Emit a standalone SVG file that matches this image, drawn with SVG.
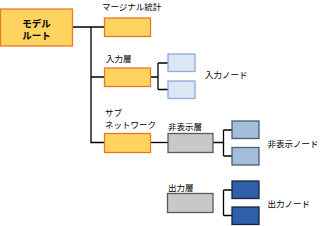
<svg xmlns="http://www.w3.org/2000/svg" width="320" height="226" viewBox="0 0 320 226">
<style>
text{font-family:"Noto Sans CJK JP","Liberation Sans",sans-serif;font-size:8.5px;fill:#000}
.root text{font-size:9.5px;font-weight:bold}
.orange{fill:#FFD35F;stroke:#E87722;stroke-width:1.3}
.gray{fill:#C8C8C8;stroke:#5A5A5A;stroke-width:1.3}
.in{fill:#DDE6F4;stroke:#8FAADC;stroke-width:1.3}
.hid{fill:#A4BDD8;stroke:#4A5E78;stroke-width:1.3}
.out{fill:#2F5FA8;stroke:#1A2538;stroke-width:1.3}
.conn path{fill:none;stroke:#000;stroke-width:1.3}
</style>
<g class="conn">
<path d="M72.5 27H104.5M91 27V142.5H104.5M91 77H104.5"/>
<path d="M150.5 77H158M158 63V89.5M158 63H168M158 89.5H168"/>
<path d="M150.5 142.5H168"/>
<path d="M213 142.5H223.5M223.5 130V156M223.5 130H232M223.5 156H232"/>
<path d="M223.5 190V215.5M223.5 190H232M223.5 215.5H232"/>
</g>
<g id="root" class="root"><rect class="orange" x="0.5" y="9" width="72" height="37"/><text x="36.5" y="26.5" text-anchor="middle">モデル</text><text x="36.5" y="39" text-anchor="middle">ルート</text></g>
<g id="marginal"><rect class="orange" x="104.5" y="18" width="46" height="18.5"/><text x="102" y="10">マージナル統計</text></g>
<g id="inputLayer"><rect class="orange" x="104.5" y="68" width="46" height="18.5"/><text x="106" y="62">入力層</text></g>
<g id="inputNode1"><rect class="in" x="168" y="54" width="27" height="17.5"/></g>
<g id="inputNode2"><rect class="in" x="168" y="81" width="27" height="17.5"/></g>
<text x="205" y="78">入力ノード</text>
<g id="subnetwork"><rect class="orange" x="104.5" y="133.5" width="46" height="19"/><text x="105" y="116">サブ</text><text x="105" y="128">ネットワーク</text></g>
<g id="hiddenLayer"><rect class="gray" x="168" y="133.5" width="45" height="19"/><text x="168" y="130">非表示層</text></g>
<g id="hiddenNode1"><rect class="hid" x="232" y="121" width="27" height="17.5"/></g>
<g id="hiddenNode2"><rect class="hid" x="232" y="147.5" width="27" height="17.5"/></g>
<text x="267.5" y="147">非表示ノード</text>
<g id="outputLayer"><rect class="gray" x="167.5" y="193.5" width="45.5" height="19"/><text x="168" y="190.5">出力層</text></g>
<g id="outputNode1"><rect class="out" x="232" y="181" width="27" height="17.5"/></g>
<g id="outputNode2"><rect class="out" x="232" y="207" width="27" height="17.5"/></g>
<text x="267.5" y="206.5">出力ノード</text>
</svg>
